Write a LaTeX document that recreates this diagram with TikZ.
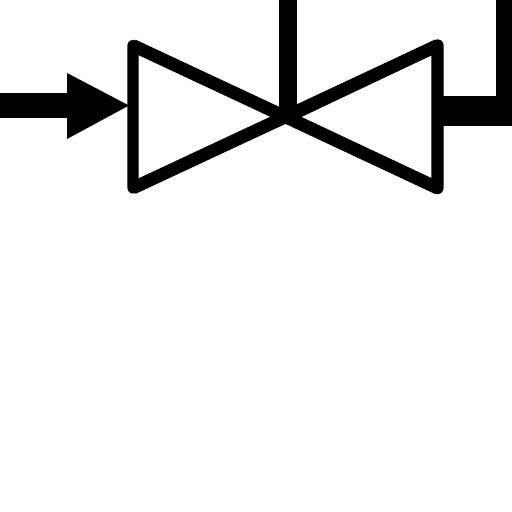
\documentclass[tikz,border=0pt]{standalone}
\tikzset{
  leftvalve/.style={line width=8.4pt,line join=round},
  rightvalve/.style={line width=9.3pt,line join=round},
  diagonal/.style={line width=9.6pt,line cap=butt},
  stem/.style={line width=13.5pt},
  inlet/.style={line width=18.75pt},
  outlet/.style={line width=22.5pt},
  riser/.style={line width=13.5pt}
}
\begin{document}
\begin{tikzpicture}[x=0.75pt,y=-0.75pt]
\useasboundingbox[fill=white] (0,0) rectangle (512,512);
\coordinate (c) at (287,117);
\coordinate (lt) at (133,45.5);
\coordinate (lb) at (133,188);
\coordinate (rt) at (437.5,45.5);
\coordinate (rb) at (437.5,188);
\coordinate (top) at (288,0);
\coordinate (stemfoot) at (288,117);
\coordinate (inA) at (0,105.5);
\coordinate (inB) at (70,105.5);
\coordinate (outA) at (440,111);
\coordinate (outB) at (512,111);
\coordinate (riseA) at (505,100);
\coordinate (riseB) at (505,0);
\draw[leftvalve] (lt) -- (lb) -- (c) -- cycle;
\draw[rightvalve] (rt) -- (rb) -- (c) -- cycle;
\draw[diagonal] (lt) -- (rb);
\draw[diagonal] (lb) -- (rt);
\draw[stem] (stemfoot) -- (top);
\draw[outlet] (outA) -- (outB);
\draw[riser] (riseA) -- (riseB);
\draw[inlet] (inA) -- (inB);
\fill (67,73) -- (129,105.5) -- (67,139) -- cycle;
\end{tikzpicture}
\end{document}
